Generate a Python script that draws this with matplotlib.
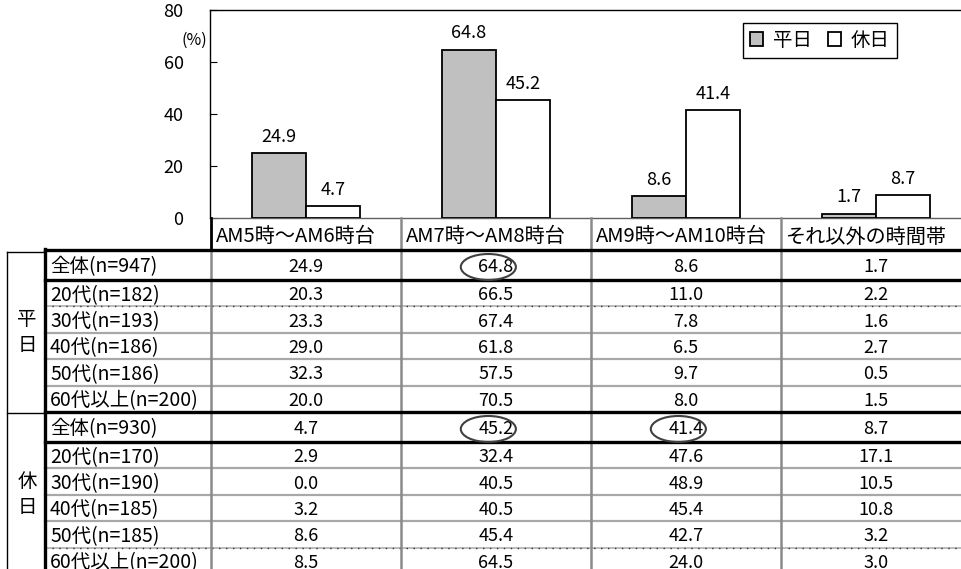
import matplotlib
matplotlib.use('Agg')
import matplotlib.pyplot as plt
import numpy as np
from matplotlib.patches import Ellipse

plt.rcParams['font.family'] = ['Noto Sans CJK JP', 'DejaVu Sans']

# ---------------- data ----------------
categories = ['AM5時〜AM6時台', 'AM7時〜AM8時台', 'AM9時〜AM10時台', 'それ以外の時間帯']
series_names = ['平日', '休日']
weekday_total = [24.9, 64.8, 8.6, 1.7]
holiday_total = [4.7, 45.2, 41.4, 8.7]
yticks = [0, 20, 40, 60, 80]

weekday_labels = ['全体(n=947)', '20代(n=182)', '30代(n=193)', '40代(n=186)',
                  '50代(n=186)', '60代以上(n=200)']
weekday_values = [[24.9, 64.8, 8.6, 1.7],
                  [20.3, 66.5, 11.0, 2.2],
                  [23.3, 67.4, 7.8, 1.6],
                  [29.0, 61.8, 6.5, 2.7],
                  [32.3, 57.5, 9.7, 0.5],
                  [20.0, 70.5, 8.0, 1.5]]
holiday_labels = ['全体(n=930)', '20代(n=170)', '30代(n=190)', '40代(n=185)',
                  '50代(n=185)', '60代以上(n=200)']
holiday_values = [[4.7, 45.2, 41.4, 8.7],
                  [2.9, 32.4, 47.6, 17.1],
                  [0.0, 40.5, 48.9, 10.5],
                  [3.2, 40.5, 45.4, 10.8],
                  [8.6, 45.4, 42.7, 3.2],
                  [8.5, 64.5, 24.0, 3.0]]
# circled cells: (group index, row index, column index)
circled = [(0, 0, 1), (1, 0, 1), (1, 0, 2)]
# separators drawn dotted: (group index, row index below separator)
dotted_seps = [(0, 2), (1, 5)]

# ---------------- layout ----------------
W, H = 961, 569
fig = plt.figure(figsize=(W / 100, H / 100), dpi=100)
UNIT = 190.0          # px per category
AX_L, AX_T, AX_B = 210, 10, 218
x0 = -0.505
FS = 13       # numbers
FS_J = 14     # Japanese labels
FS_H = 14.5   # header

ax = fig.add_axes([AX_L / W, 1 - AX_B / H, (W - AX_L) / W, (AX_B - AX_T) / H])
ax.set_xlim(x0, x0 + (W - AX_L) / UNIT)
ax.set_ylim(0, 80)

x = np.arange(len(categories))
bw = 0.285
b1 = ax.bar(x - bw / 2, weekday_total, bw, color='#C0C0C0', edgecolor='black',
            linewidth=1.3, label=series_names[0], zorder=3)
b2 = ax.bar(x + bw / 2, holiday_total, bw, color='white', edgecolor='black',
            linewidth=1.3, label=series_names[1], zorder=3)
for bars, vals in ((b1, weekday_total), (b2, holiday_total)):
    for b, v in zip(bars, vals):
        ax.annotate(f'{v:.1f}', (b.get_x() + b.get_width() / 2, v),
                    xytext=(0, 8), textcoords='offset points',
                    ha='center', va='baseline', fontsize=FS)

ax.set_xticks([])
ax.set_yticks(yticks)
ax.tick_params(axis='y', direction='in', length=5, pad=19, labelsize=FS)
ax.spines['right'].set_visible(False)
for s in ('left', 'top'):
    ax.spines[s].set_color('black')
    ax.spines[s].set_linewidth(1.0)
ax.spines['bottom'].set_color('#606060')
ax.spines['bottom'].set_linewidth(1.0)

fig.text(194 / W, 1 - 40 / H, '(%)', fontsize=11.5, ha='center', va='center')

leg = ax.legend(handles=[b1, b2], ncol=2, loc='upper left',
                bbox_to_anchor=(743 / W, 1 - 23 / H), bbox_transform=fig.transFigure,
                borderaxespad=0, fontsize=FS_J, frameon=True, fancybox=False,
                framealpha=1, edgecolor='black', handlelength=0.7, handleheight=0.7,
                handletextpad=0.5, columnspacing=0.8, borderpad=0.35)
leg.get_frame().set_linewidth(1.0)

# ---------------- table ----------------
tab = fig.add_axes([0, 0, 1, 1 - AX_B / H])
tab.set_xlim(x0 - AX_L / UNIT, x0 + (W - AX_L) / UNIT)
tab.set_ylim(H, AX_B)
tab.axis('off')


def tx(px):
    return x0 + (px - AX_L) / UNIT


right = x0 + (W - AX_L) / UNIT
HEAD_B = 250
GRAY = '#8a8a8a'

# header
for i, c in enumerate(categories):
    tab.text(i - 0.5 + 0.025, (AX_B + HEAD_B) / 2 + 3, c, ha='left', va='center', fontsize=FS_H)

groups = [(series_names[0], weekday_labels, weekday_values),
          (series_names[1], holiday_labels, holiday_values)]

y = HEAD_B
row_pos = {}
for g, (gname, labels, values) in enumerate(groups):
    gtop = y
    for r, (lab, vals) in enumerate(zip(labels, values)):
        h = 30 if r == 0 else 26.4
        top, bot = y, y + h
        mid = (top + bot) / 2
        row_pos[(g, r)] = (top, bot)
        tab.text(tx(50), mid + 2, lab, ha='left', va='center', fontsize=FS_J)
        for i, v in enumerate(vals):
            tab.text(i, mid + 2, f'{v:.1f}', ha='center', va='center', fontsize=FS)
        # separator line at top of this row
        if r == 0:
            tab.plot([tx(45), right], [top, top], color='black', lw=2.4, clip_on=False, zorder=4)
            tab.plot([tx(7), tx(45)], [top + 1.5, top + 1.5], color='black', lw=1.0, clip_on=False, zorder=4)
        elif r == 1:
            tab.plot([tx(45), right], [top, top], color='black', lw=2.4, clip_on=False, zorder=4)
        else:
            if (g, r) in dotted_seps:
                tab.plot([tx(45), right], [top, top], color='#b0b0b0', lw=1.2, clip_on=False, zorder=2)
                tab.plot([tx(45), right], [top, top], color='#333333', lw=1.0,
                         linestyle=(0, (1, 4)), clip_on=False, zorder=2)
            else:
                tab.plot([tx(45), right], [top, top], color='#a8a8a8', lw=1.6, clip_on=False, zorder=2)
        y = bot
    # vertical group name, beside the 30代 / 40代 rows
    gmid = gtop + 30 + 26.4 * 1.5
    for k, ch in enumerate(gname):
        tab.text(tx(27), gmid + k * 26.4, ch, ha='center', va='center', fontsize=FS_J)

# vertical lines
tab.plot([tx(7), tx(7)], [HEAD_B + 1.5, H + 5], color='black', lw=1.0, clip_on=False, zorder=4)
tab.plot([tx(45), tx(45)], [HEAD_B - 1, H + 5], color='black', lw=2.4, clip_on=False, zorder=4)
tab.plot([-0.5, -0.5], [AX_B, HEAD_B], color='black', lw=2.0, clip_on=False, zorder=4)
tab.plot([-0.5, -0.5], [HEAD_B, H + 5], color=GRAY, lw=1.8, clip_on=False, zorder=3)
for i in range(1, len(categories)):
    tab.plot([i - 0.5, i - 0.5], [AX_B, H + 5], color=GRAY, lw=1.8, clip_on=False, zorder=3)

# ellipses around highlighted cells
for g, r, c in circled:
    top, bot = row_pos[(g, r)]
    e = Ellipse((c - 0.04, (top + bot) / 2 + 2), 0.29, 26, fill=False,
                edgecolor='#404040', lw=1.5, zorder=5)
    tab.add_patch(e)

fig.savefig('out.png', dpi=100)
